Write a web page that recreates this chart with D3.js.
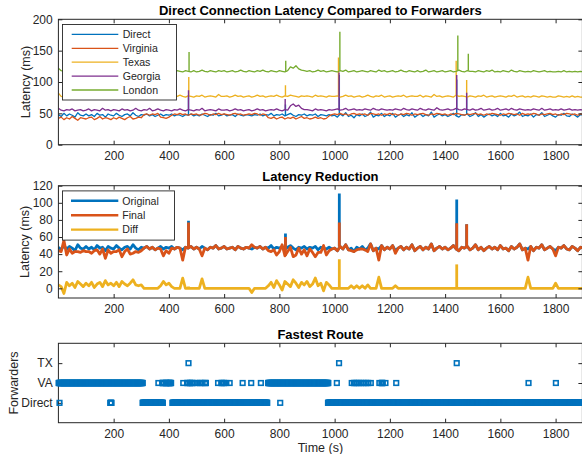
<!DOCTYPE html>
<html><head><meta charset="utf-8">
<script src="https://cdn.jsdelivr.net/npm/d3@7"></script>
<style>
body{margin:0;background:#fff}
svg{display:block}
text{font-family:"Liberation Sans",Arial,Helvetica,sans-serif;fill:#262626}
</style>
</head><body>
<svg id="c" width="582" height="454"></svg>
<script>
// ---------------- DATA ----------------
const timeStep = 10; // seconds between samples (samples at 0,10,...,1900)
const seriesNames = ["Direct","Virginia","Texas","Georgia","London"];
const direct = [
48,45,50,46,49,47,44,51,47,46,
49,46,48,45,50,47,48,44,49,47,
46,50,47,45,48,49,46,51,47,45,
48,47,49,46,48,45,47,49,46,48,
47,49,46,48,47,45,48,47,49,46,
48,46,49,47,45,48,47,50,46,47,
49,46,47,48,45,49,47,46,48,47,
46,48,47,49,46,48,47,50,46,48,
47,49,46,48,50,47,45,48,47,49,
46,48,47,49,45,48,47,46,48,46,
47,44,49,46,51,45,47,43,48,46,
49,45,47,52,44,47,46,50,45,48,
46,50,44,47,49,45,48,46,51,44,
47,49,45,48,46,52,44,47,49,46,
48,45,47,50,46,44,48,47,49,45,
47,51,45,48,44,47,49,46,48,45,
50,46,47,44,49,46,48,52,45,47,
46,49,44,48,47,51,45,47,49,46,
44,48,47,50,46,45,49,47,44,48,
47];
const virginia = [
42,44,40,43,41,45,42,39,43,42,
41,43,44,40,42,45,41,43,42,40,
43,41,44,42,40,43,45,41,42,44,
43,48,49,47,49,48,50,44,43,42,
44,47,49,48,50,48,49,47,49,48,
49,47,48,50,49,47,49,48,50,48,
49,48,47,49,50,48,49,47,48,49,
48,50,49,47,49,48,43,42,44,41,
43,44,41,43,42,44,41,43,45,42,
43,41,42,44,42,43,41,42,46,48,
49,48,50,48,49,47,49,50,48,49,
48,49,47,50,49,48,49,47,49,48,
50,48,49,47,49,48,50,49,47,49,
48,49,50,48,47,49,48,50,49,48,
49,47,49,48,50,49,48,47,49,48,
49,50,48,49,47,49,48,50,49,48,
47,49,48,50,49,48,49,47,50,48,
49,48,50,49,47,49,48,49,50,48,
49,47,49,48,50,49,48,49,47,49,
48];
const texas = [
82,77,76,78,77,79,76,77,78,76,
77,79,76,78,77,76,80,77,78,76,
78,77,76,79,77,78,76,77,79,77,
76,78,77,80,76,77,78,77,76,79,
77,76,78,77,79,77,76,78,77,76,
78,77,79,76,77,78,77,76,80,77,
77,78,76,77,79,77,78,76,77,78,
76,77,79,77,78,76,77,78,77,79,
77,76,78,77,79,78,77,76,78,77,
78,77,76,79,77,78,77,76,78,77,
77,78,76,77,79,77,78,76,77,78,
76,77,79,77,76,78,77,79,76,77,
78,76,77,78,77,79,76,77,78,77,
77,79,76,78,77,76,80,77,78,76,
77,78,77,76,79,77,78,77,76,78,
77,76,78,77,79,76,77,78,76,77,
78,77,76,78,77,79,76,77,78,76,
77,76,78,77,76,78,77,76,77,76,
76,78,77,76,77,76,78,76,77,76,
76];
const georgia = [
58,55,54,56,55,57,54,55,56,54,
55,57,54,56,55,54,58,55,56,54,
56,55,54,57,55,56,54,55,58,55,
54,56,55,58,54,55,57,55,54,56,
55,54,56,55,57,55,54,56,55,54,
56,55,58,54,55,56,55,54,57,55,
55,56,54,55,57,55,56,54,55,56,
54,55,57,55,56,54,55,56,55,57,
55,54,56,55,62,65,61,63,58,56,
56,55,54,57,55,56,55,54,56,55,
56,57,55,56,58,55,56,57,55,56,
55,57,56,55,58,56,55,57,56,55,
56,55,57,56,55,58,56,55,57,56,
55,58,56,55,57,56,55,59,56,55,
56,57,55,56,58,56,55,57,56,55,
57,55,56,58,55,56,57,55,56,58,
55,56,57,55,58,56,55,57,56,55,
56,55,57,56,55,58,55,56,57,55,
56,55,57,55,56,57,55,56,55,56,
55];
const london = [
122,118,117,116,118,117,119,116,117,118,
116,118,117,119,116,117,118,116,119,117,
117,116,118,117,116,119,117,118,116,117,
118,117,116,118,117,119,116,117,118,116,
117,119,116,118,117,116,118,117,116,118,
116,117,119,117,116,118,117,116,118,117,
118,116,117,118,116,117,119,117,116,118,
117,116,118,117,119,117,116,118,117,116,
118,117,116,118,124,122,126,121,119,118,
117,118,116,117,119,117,118,116,117,118,
117,116,118,117,119,116,117,118,116,117,
118,117,116,118,117,116,119,117,118,116,
117,118,116,117,119,117,116,118,117,116,
118,116,117,119,116,117,118,116,117,118,
116,117,118,116,117,119,117,116,118,117,
117,116,118,117,116,118,117,119,116,117,
116,118,117,116,119,117,116,118,117,116,
117,116,118,117,116,117,118,116,117,116,
116,117,116,118,116,117,116,117,116,117,
116];
// Latency reduction (Original - Final), same sample grid
const diff = [
4,2,-6,7,3,6,1,8,5,2,
6,3,7,1,5,7,2,9,4,6,
3,7,2,8,5,3,6,10,4,3,
4,0,0,0,0,0,0,3,8,4,
6,2,0,0,0,12,0,0,0,0,
0,0,11,0,0,0,0,0,0,0,
0,0,0,0,0,0,0,0,0,0,
-5,0,0,0,0,0,3,7,1,9,
4,-2,8,5,2,10,6,1,7,4,
8,2,5,12,3,6,-3,7,4,0,
0,0,0,0,0,0,3,0,3,0,
3,0,4,0,0,0,13,0,0,0,
0,0,3,0,0,0,0,0,0,0,
0,0,0,0,0,0,0,0,0,0,
0,0,0,0,0,0,0,0,0,0,
0,0,0,0,0,0,0,0,0,0,
0,0,0,0,0,0,0,0,0,0,
13,0,0,0,0,0,0,0,0,0,
6,0,0,0,0,0,0,0,0,0,
0];
// single-sample spikes: time (s) and peak latency (ms)
const directSpikeT = [471,822,1017,1442,1478];
const directSpikeV = [79,64,111,104,75];
const finalSpikeV  = [77,60,77,76,75];
const virginiaSpikeT = [];
const virginiaSpikeV = [];
const texasSpikeT = [472,822,1014,1440,1478];
const texasSpikeV = [108,95,139,134,103];
const georgiaSpikeT = [471,821,1016,1442,1478];
const georgiaSpikeV = [87,73,115,111,83];
const londonSpikeT = [473,823,1019,1446,1484];
const londonSpikeV = [148,134,180,174,145];

// fastest route: runs of seconds [start, end]
const routeCategories = ["Direct","VA","TX"];
const directRuns = [[4,4],[188,192],[305,378],[413,756],[803,803],[976,1897]];
const vaRuns = [[1,305],[362,362],[376,381],[388,392],[398,408],[452,452],[466,468],[475,478],[484,486],[493,493],[502,502],[512,514],[522,522],[531,534],[578,578],[590,592],[598,600],[608,608],[620,620],[667,667],[698,698],[733,733],[759,977],[1008,1008],[1062,1062],[1070,1072],[1079,1080],[1087,1088],[1095,1096],[1104,1105],[1113,1114],[1121,1122],[1131,1131],[1162,1162],[1170,1174],[1184,1184],[1223,1223],[1702,1702],[1801,1801]];
const txRuns = [[471,471],[1016,1016],[1442,1442]];

const xTicks = [200,400,600,800,1000,1200,1400,1600,1800];
const topYTicks = [0,50,100,150,200];
const midYTicks = [0,20,40,60,80,100,120];
const routeYTicks = [1,2,3];
const titles = ["Direct Connection Latency Compared to Forwarders","Latency Reduction","Fastest Route"];
const yLabels = ["Latency (ms)","Latency (ms)","Forwarders"];
const xLabel = "Time (s)";
const midNames = ["Original","Final","Diff"];
const colors = ["#0072BD","#D95319","#EDB120","#7E2F8E","#77AC30"];

// ---------------- DRAW ----------------
const svg = d3.select("#c");
const X0 = 58.4, X1 = 582.4;
const x = d3.scaleLinear().domain([0,1897]).range([X0,X1]);
const panels = [
  {top:19.3, bottom:144.7, dom:[0,200], ticks:topYTicks, ylx:26},
  {top:185.7, bottom:298, dom:[-11.3,120], ticks:midYTicks, ylx:25},
  {top:343.3, bottom:422.7, dom:[0,4], ticks:routeYTicks, ylx:13.5}
];
const ink = "#262626";

function toPts(arr){ return arr.map((v,i)=>({t:i*timeStep, v:v})); }

panels.forEach((p,k)=>{
  p.y = d3.scaleLinear().domain(p.dom).range([p.bottom,p.top]);
  svg.append("clipPath").attr("id","clip"+k).append("rect")
    .attr("x",X0).attr("y",p.top).attr("width",X1-X0).attr("height",p.bottom-p.top);
  p.plot = svg.append("g").attr("clip-path","url(#clip"+k+")");
});

function axes(p,k,fmt){
  const g = svg.append("g");
  const ab = d3.axisBottom(x).tickValues(xTicks).tickSizeInner(-4).tickSizeOuter(0).tickPadding(6.5).tickFormat(d=>String(d));
  g.append("g").attr("transform",`translate(0,${p.bottom})`).call(ab);
  const at = d3.axisTop(x).tickValues(xTicks).tickSizeInner(-4).tickSizeOuter(0).tickFormat("");
  g.append("g").attr("transform",`translate(0,${p.top})`).call(at);
  const al = d3.axisLeft(p.y).tickValues(p.ticks).tickSizeInner(-4).tickSizeOuter(0).tickPadding(5.7)
    .tickFormat(fmt || (d=>String(d)));
  g.append("g").attr("transform",`translate(${X0},0)`).call(al);
  const ar = d3.axisRight(p.y).tickValues(p.ticks).tickSizeInner(-4).tickSizeOuter(0).tickFormat("");
  g.append("g").attr("transform",`translate(${X1},0)`).call(ar);
  g.selectAll(".domain").remove();
  g.selectAll(".tick line").attr("stroke",ink).attr("stroke-width",1);
  g.selectAll(".tick text").attr("font-size","12px").attr("fill",ink)
    .style("font-family",'"Liberation Sans",Arial,Helvetica,sans-serif');
  g.append("rect").attr("x",X0).attr("y",p.top).attr("width",X1-X0).attr("height",p.bottom-p.top)
    .attr("fill","none").attr("stroke",ink).attr("stroke-width",1);
  svg.append("text").attr("x",(X0+X1)/2).attr("y",p.top-4.5).attr("text-anchor","middle")
    .attr("font-size","13px").attr("font-weight","bold").style("fill","#000").text(titles[k]);
  svg.append("text").attr("transform",`translate(${p.ylx},${(p.top+p.bottom)/2}) rotate(-90)`)
    .attr("text-anchor","middle").attr("dy","0.35em").attr("font-size","12.5px").text(yLabels[k]);
}

function drawSeries(p, pts, color, w){
  const line = d3.line().x(d=>x(d.t)).y(d=>p.y(d.v));
  p.plot.append("path").datum(pts).attr("d",line).attr("fill","none")
    .attr("stroke",color).attr("stroke-width",w).attr("stroke-linejoin","round");
}
function drawSpikes(p, baseArr, ts, vs, color, w){
  ts.forEach((t,i)=>{
    const base = baseArr[Math.round(t/timeStep)];
    p.plot.append("line").attr("x1",x(t)).attr("x2",x(t))
      .attr("y1",p.y(base)).attr("y2",p.y(vs[i]))
      .attr("stroke",color).attr("stroke-width",w);
  });
}

// Panel 1
const P1 = panels[0];
const topSeries = [direct,virginia,texas,georgia,london];
const topSpT = [directSpikeT,virginiaSpikeT,texasSpikeT,georgiaSpikeT,londonSpikeT];
const topSpV = [directSpikeV,virginiaSpikeV,texasSpikeV,georgiaSpikeV,londonSpikeV];
topSeries.forEach((s,i)=>{
  drawSeries(P1,toPts(s),colors[i],1.3);
  drawSpikes(P1,s,topSpT[i],topSpV[i],colors[i],1.4);
});
axes(P1,0);
{
  const lg = svg.append("g");
  lg.append("rect").attr("x",62.5).attr("y",24.5).attr("width",114).attr("height",75.5)
    .attr("fill","#fff").attr("stroke",ink).attr("stroke-width",0.9);
  seriesNames.forEach((n,i)=>{
    const yy = 34.4 + i*13.9;
    lg.append("line").attr("x1",71.7).attr("x2",118.3).attr("y1",yy).attr("y2",yy)
      .attr("stroke",colors[i]).attr("stroke-width",1.3);
    lg.append("text").attr("x",122.7).attr("y",yy).attr("dy","0.35em").attr("font-size","10.6px").text(n);
  });
}

// Panel 2
const P2 = panels[1];
const original = direct;
const final = direct.map((v,i)=>v - diff[i]);
const diffSpikeV = directSpikeV.map((v,i)=>v - finalSpikeV[i]);
const midW = 2.8;
drawSeries(P2,toPts(original),colors[0],midW);
drawSpikes(P2,original,directSpikeT,directSpikeV,colors[0],midW);
drawSeries(P2,toPts(final),colors[1],midW);
drawSpikes(P2,final,directSpikeT,finalSpikeV,colors[1],midW);
drawSeries(P2,toPts(diff),colors[2],midW);
drawSpikes(P2,diff,directSpikeT,diffSpikeV,colors[2],midW);
axes(P2,1);
{
  const lg = svg.append("g");
  lg.append("rect").attr("x",62.5).attr("y",190.9).attr("width",112).attr("height",49.2)
    .attr("fill","#fff").attr("stroke",ink).attr("stroke-width",0.9);
  midNames.forEach((n,i)=>{
    const yy = 200.8 + i*14.4;
    lg.append("line").attr("x1",71).attr("x2",118.3).attr("y1",yy).attr("y2",yy)
      .attr("stroke",colors[i]).attr("stroke-width",2.4);
    lg.append("text").attr("x",122.3).attr("y",yy).attr("dy","0.35em").attr("font-size","10.6px").text(n);
  });
}

// Panel 3
const P3 = panels[2];
axes(P3,2,d=>routeCategories[d-1]);
const mk = svg.append("g");
[directRuns,vaRuns,txRuns].forEach((runs,ci)=>{
  const level = ci+1;
  const pts = [];
  runs.forEach(r=>{ for(let t=r[0]; t<=r[1]; t++) pts.push(t); });
  mk.selectAll(null).data(pts).enter().append("rect")
    .attr("x",d=>x(d)-2.3).attr("y",P3.y(level)-2.3)
    .attr("width",4.6).attr("height",4.6)
    .attr("fill","none").attr("stroke",colors[0]).attr("stroke-width",1.6);
});
svg.append("text").attr("x",(X0+X1)/2).attr("y",452).attr("text-anchor","middle")
  .attr("font-size","12.5px").text(xLabel);
</script>
</body></html>
